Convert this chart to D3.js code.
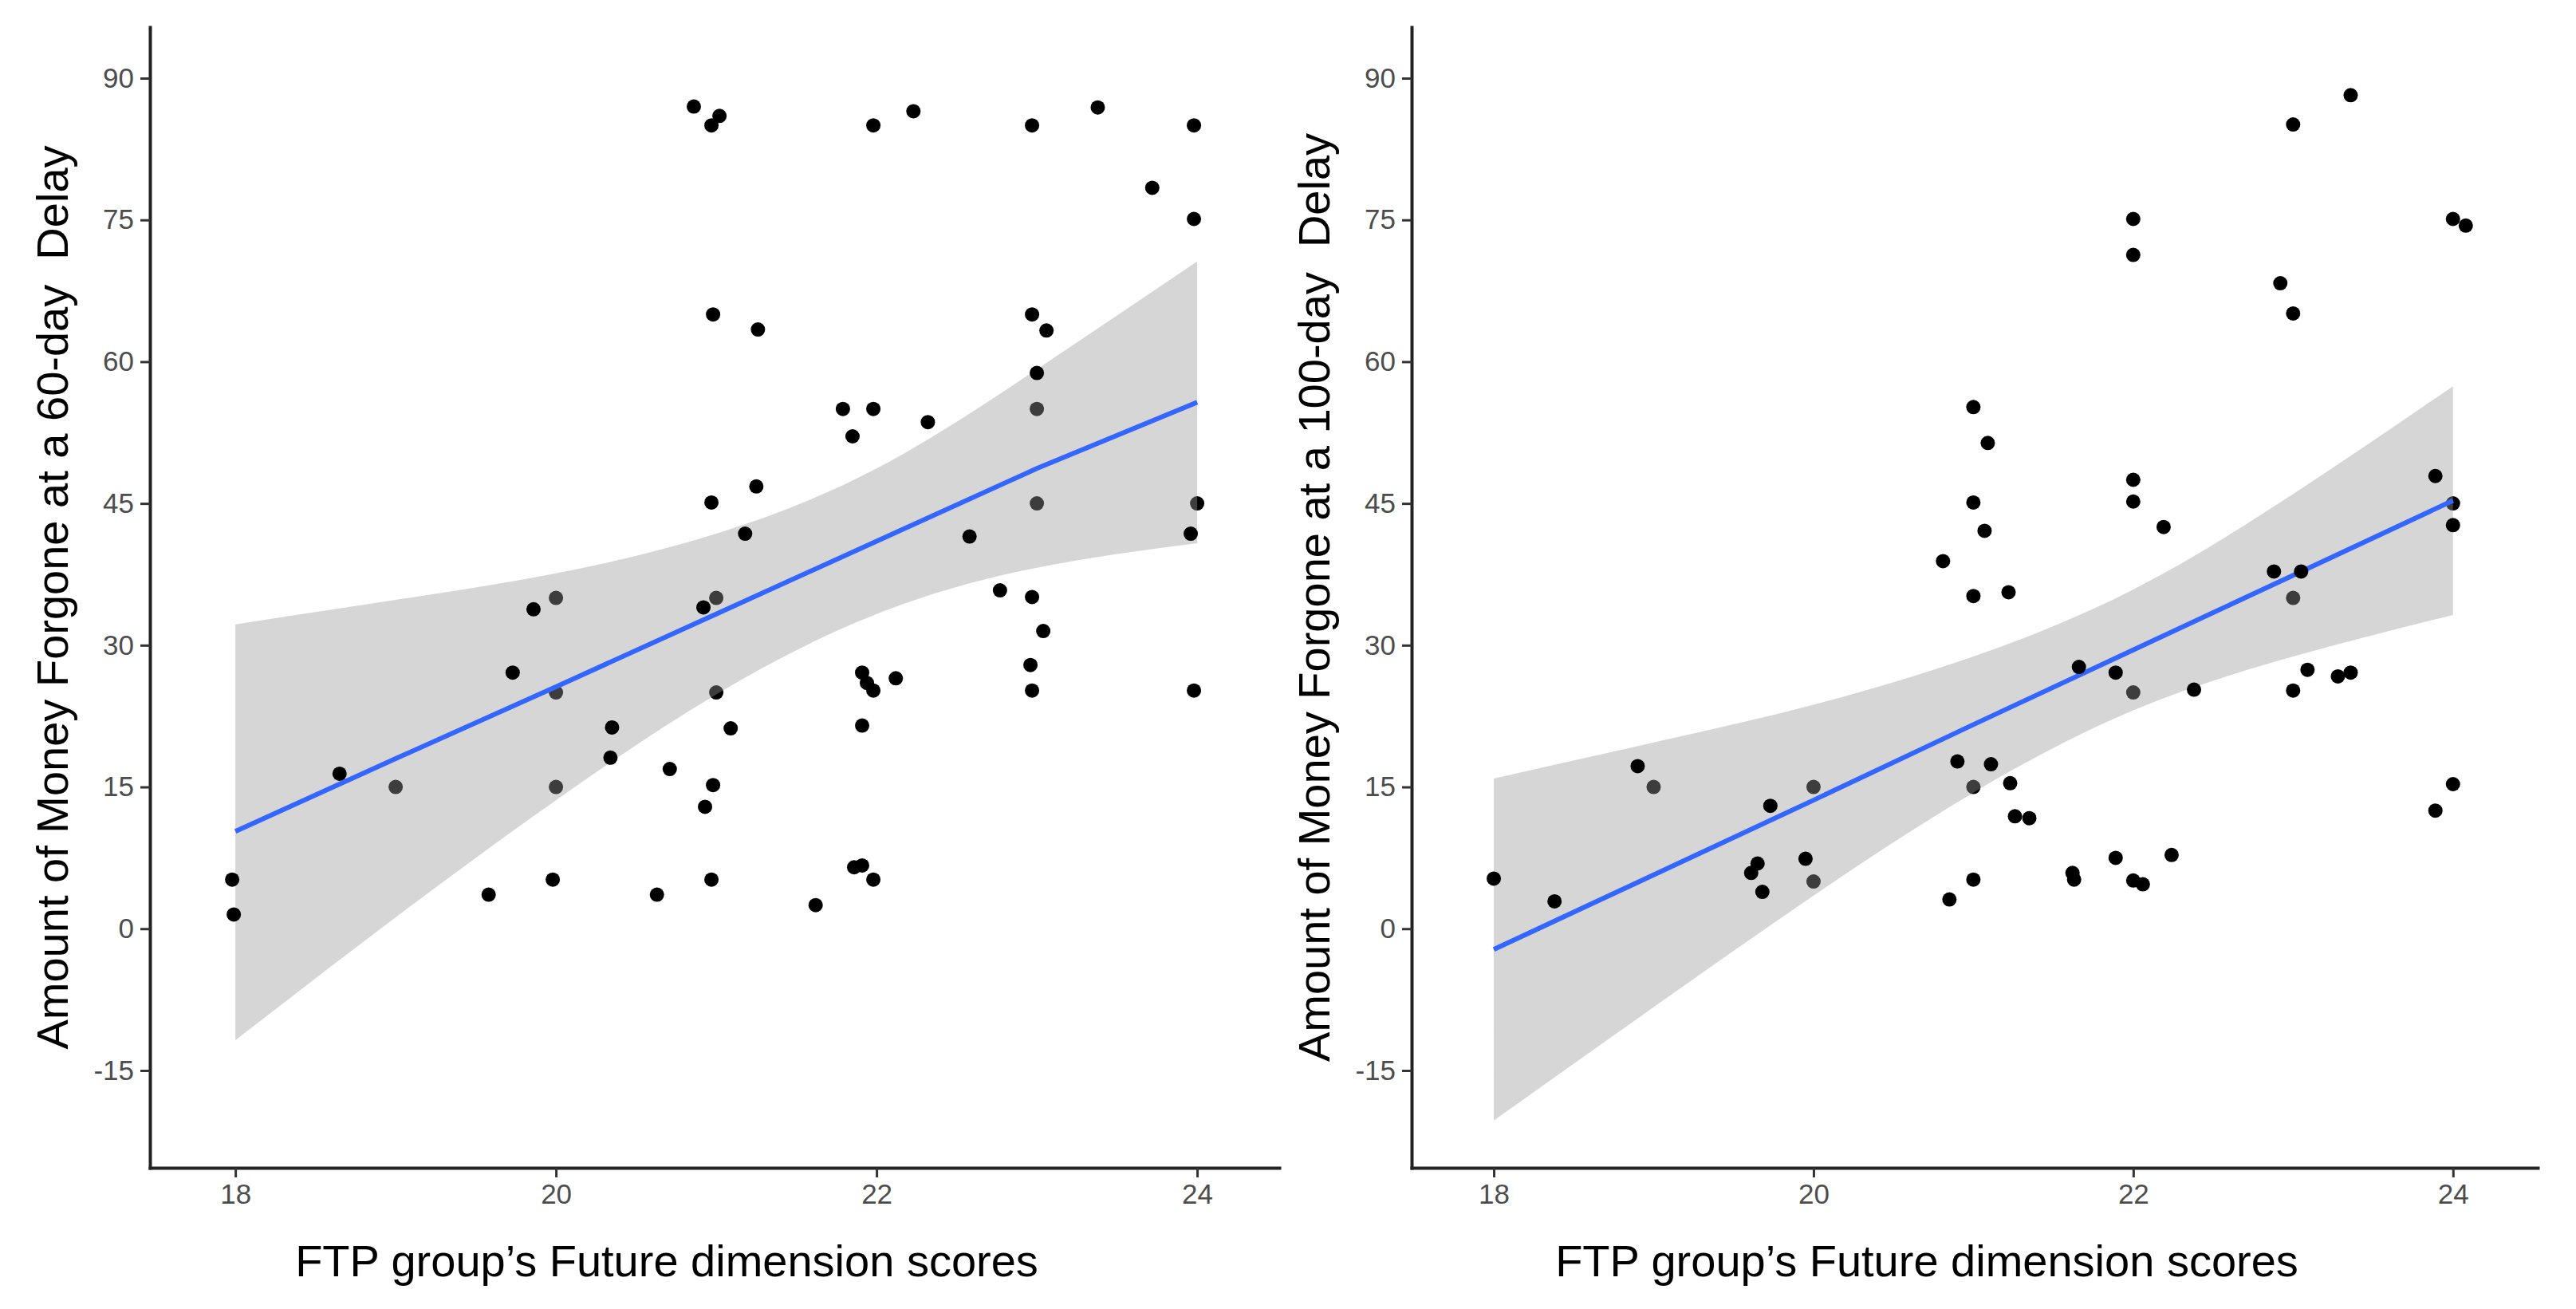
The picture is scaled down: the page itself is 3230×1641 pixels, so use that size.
<!DOCTYPE html>
<html>
<head>
<meta charset="utf-8">
<script src="https://cdn.jsdelivr.net/npm/d3@7"></script>
<style>
  body { margin: 0; background: #fff; }
  text { font-family: "Liberation Sans", Arial, sans-serif; white-space: pre; }
</style>
</head>
<body>
<svg id="chart" width="3230" height="1641"></svg>
<script>
var xTicks = [18, 20, 22, 24];
var yTicks = [-15, 0, 15, 30, 45, 60, 75, 90];

var xTitle = "FTP group\u2019s Future dimension scores";
var yTitle60 = "Amount of Money Forgone at a 60-day  Delay";
var yTitle100 = "Amount of Money Forgone at a 100-day  Delay";

var fitX = [18, 19, 20, 21, 22, 23, 24];
var fit60 = [10.3, 18.0, 25.6, 33.3, 41.0, 48.7, 55.7];
var upper60 = [32.2, 34.8, 37.6, 41.8, 48.7, 59.2, 70.6];
var lower60 = [-11.8, 1.2, 13.6, 24.8, 33.3, 38.2, 40.8];
var fit100 = [-2.2, 5.7, 13.6, 21.6, 29.5, 37.4, 45.3];
var upper100 = [15.9, 19.7, 23.7, 28.8, 35.9, 46.0, 57.4];
var lower100 = [-20.3, -8.3, 3.5, 14.4, 23.1, 28.8, 33.2];

// points that sit under the grey band (look grey)
var base60 = [[19, 15], [20, 15], [20, 25], [20, 35], [21, 25], [21, 35], [23, 45], [23, 55], [24, 45]];
var base100 = [[19, 15], [20, 15], [20, 5], [21, 15], [22, 25], [23, 35], [24, 45]];

// points drawn on top
var pts60 = [
  [20.86, 87.0], [20.97, 85.0], [21.02, 86.0], [21.98, 85.0], [22.23, 86.5], [22.97, 85.0], [23.38, 86.9], [23.98, 85.0],
  [23.72, 78.4], [23.98, 75.1],
  [20.98, 65.0], [21.26, 63.4], [22.97, 65.0], [23.06, 63.3], [23.0, 58.8],
  [21.79, 55.0], [21.98, 55.0], [21.85, 52.1], [22.32, 53.6],
  [20.97, 45.1], [21.25, 46.8], [21.18, 41.8], [22.58, 41.5], [23.96, 41.8],
  [19.86, 33.8], [20.92, 34.0], [22.77, 35.8], [22.97, 35.1], [23.04, 31.5],
  [19.73, 27.1], [22.96, 27.9], [22.97, 25.2], [23.98, 25.2], [21.91, 27.1], [21.94, 26.0], [21.98, 25.2], [22.12, 26.5],
  [20.35, 21.3], [20.34, 18.1], [21.09, 21.2], [21.91, 21.5],
  [18.65, 16.4], [20.71, 16.9], [20.98, 15.2], [20.93, 12.9],
  [17.98, 5.2], [17.99, 1.5], [19.98, 5.2], [19.58, 3.6], [20.63, 3.6], [20.97, 5.2], [21.62, 2.5],
  [21.86, 6.5], [21.91, 6.7], [21.98, 5.2]
];
var pts100 = [
  [18.0, 5.3], [18.38, 2.9], [18.9, 17.2], [19.61, 5.9], [19.65, 6.9], [19.68, 3.9], [19.73, 13.0], [19.95, 7.4],
  [20.81, 38.9], [20.85, 3.1], [20.9, 17.7], [21.0, 55.2], [21.0, 45.1], [21.0, 35.2], [21.0, 5.2], [21.07, 42.1],
  [21.09, 51.4], [21.11, 17.4], [21.22, 35.6], [21.23, 15.4], [21.26, 11.9], [21.35, 11.7],
  [21.62, 5.9], [21.63, 5.2], [21.66, 27.7], [21.89, 27.1], [21.89, 7.5], [22.0, 75.1], [22.0, 71.3], [22.0, 47.5],
  [22.0, 45.2], [22.0, 5.1], [22.06, 4.7], [22.19, 42.5], [22.24, 7.8], [22.38, 25.3],
  [22.88, 37.8], [22.92, 68.3], [23.0, 85.1], [23.0, 65.1], [23.0, 25.2], [23.05, 37.8], [23.09, 27.4], [23.28, 26.7],
  [23.36, 27.1], [23.36, 88.2],
  [23.89, 47.9], [23.89, 12.5], [24.0, 75.1], [24.08, 74.4], [24.0, 42.7], [24.0, 15.3]
];

var svg = d3.select("#chart");

var y = d3.scaleLinear().domain([-25.3, 95.4]).range([1464, 34]);

var panels = [
  { xDomain: [17.467, 24.512], xRange: [188, 1604], fit: fit60, upper: upper60, lower: lower60,
    base: base60, pts: pts60, yTitle: yTitle60, yTitleX: 85, xTitleX: 836 },
  { xDomain: [17.486, 24.53], xRange: [1770, 3182], fit: fit100, upper: upper100, lower: lower100,
    base: base100, pts: pts100, yTitle: yTitle100, yTitleX: 1667, xTitleX: 2416 }
];

var plain = function (d) { return String(d); };

panels.forEach(function (p) {
  var x = d3.scaleLinear().domain(p.xDomain).range(p.xRange);
  var g = svg.append("g");

  var band = d3.area()
    .x(function (d, i) { return x(fitX[i]); })
    .y0(function (d, i) { return y(p.lower[i]); })
    .y1(function (d, i) { return y(p.upper[i]); })
    .curve(d3.curveNatural);

  var line = d3.line()
    .x(function (d, i) { return x(fitX[i]); })
    .y(function (d) { return y(d); });

  g.selectAll("circle.base")
    .data(p.base)
    .enter()
    .append("circle")
      .attr("class", "base")
      .attr("cx", function (d) { return x(d[0]); })
      .attr("cy", function (d) { return y(d[1]); })
      .attr("r", 9)
      .attr("fill", "#000");

  g.append("path")
    .attr("d", band(fitX))
    .attr("fill", "#999999")
    .attr("fill-opacity", 0.4);

  g.append("path")
    .attr("d", line(p.fit))
    .attr("fill", "none")
    .attr("stroke", "#3366FF")
    .attr("stroke-width", 6);

  g.selectAll("circle.pt")
    .data(p.pts)
    .enter()
    .append("circle")
      .attr("class", "pt")
      .attr("cx", function (d) { return x(d[0]); })
      .attr("cy", function (d) { return y(d[1]); })
      .attr("r", 9)
      .attr("fill", "#000");

  var xAxis = g.append("g")
    .attr("transform", "translate(0," + y.range()[0] + ")")
    .call(d3.axisBottom(x).tickValues(xTicks).tickFormat(plain)
      .tickSize(12).tickSizeOuter(0).tickPadding(8));

  var yAxis = g.append("g")
    .attr("transform", "translate(" + p.xRange[0] + ",0)")
    .call(d3.axisLeft(y).tickValues(yTicks).tickFormat(plain)
      .tickSize(12).tickSizeOuter(0).tickPadding(8));

  [xAxis, yAxis].forEach(function (a) {
    a.select(".domain").attr("stroke", "#222").attr("stroke-width", 4).attr("stroke-linecap", "square");
    a.selectAll(".tick line").attr("stroke", "#333").attr("stroke-width", 3);
    a.selectAll(".tick text")
      .attr("fill", "#4d4d4d")
      .style("font-size", "35px")
      .style("font-family", "'Liberation Sans', Arial, sans-serif");
  });

  g.append("text")
    .attr("x", p.xTitleX)
    .attr("y", 1600)
    .attr("text-anchor", "middle")
    .style("font-size", "56px")
    .attr("fill", "#000")
    .text(xTitle);

  var cy = (y.range()[0] + y.range()[1]) / 2;
  g.append("text")
    .attr("transform", "translate(" + p.yTitleX + "," + cy + ") rotate(-90)")
    .attr("text-anchor", "middle")
    .style("font-size", "56px")
    .attr("fill", "#000")
    .text(p.yTitle);
});
</script>
</body>
</html>
